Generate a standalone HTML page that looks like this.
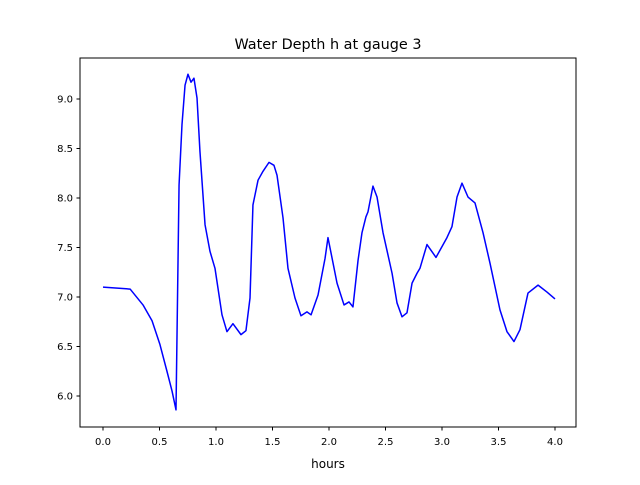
<!DOCTYPE html>
<html><head><meta charset="utf-8"><style>
body{margin:0;background:#fff;font-family:"Liberation Sans","DejaVu Sans",sans-serif}
svg text{font-family:"DejaVu Sans","Liberation Sans",sans-serif}
</style></head><body>
<svg id="chart" width="640" height="480" xmlns="http://www.w3.org/2000/svg">
<rect width="640" height="480" fill="#fff"/>
<text x="328" y="49" font-size="14.4" text-anchor="middle">Water Depth h at gauge 3</text>
<g id="axes"></g>
<rect x="80" y="58" width="496" height="369" fill="none" stroke="#000" stroke-width="1"/>
<text x="328" y="468" font-size="12" text-anchor="middle">hours</text>
</svg>
<script>
const hours=[0,0.24,0.354,0.434,0.504,0.566,0.611,0.646,0.673,0.699,0.726,0.752,0.779,0.805,0.832,0.858,0.903,0.947,0.991,1.053,1.097,1.150,1.221,1.265,1.301,1.327,1.372,1.416,1.469,1.513,1.540,1.593,1.637,1.699,1.752,1.805,1.841,1.903,1.965,1.991,2.071,2.133,2.177,2.212,2.257,2.292,2.327,2.345,2.389,2.425,2.478,2.558,2.602,2.646,2.690,2.735,2.779,2.805,2.867,2.947,3.044,3.088,3.133,3.177,3.230,3.292,3.363,3.425,3.513,3.575,3.637,3.690,3.761,3.850,3.929,4.0];
const depth=[7.10,7.08,6.92,6.76,6.52,6.25,6.05,5.86,8.13,8.74,9.14,9.25,9.17,9.21,9.01,8.47,7.73,7.46,7.29,6.82,6.65,6.73,6.62,6.66,6.99,7.93,8.18,8.27,8.36,8.33,8.23,7.80,7.29,6.99,6.81,6.85,6.82,7.02,7.39,7.60,7.14,6.92,6.95,6.90,7.37,7.65,7.81,7.86,8.12,8.01,7.65,7.24,6.94,6.80,6.84,7.14,7.24,7.29,7.53,7.40,7.60,7.71,8.01,8.15,8.01,7.95,7.65,7.34,6.87,6.65,6.55,6.67,7.04,7.12,7.05,6.98];
const xTicks=[0,0.5,1,1.5,2,2.5,3,3.5,4];
const xTickLabels=["0.0","0.5","1.0","1.5","2.0","2.5","3.0","3.5","4.0"];
const yTicks=[6,6.5,7,7.5,8,8.5,9];
const yTickLabels=["6.0","6.5","7.0","7.5","8.0","8.5","9.0"];
const X=v=>103+v*113;
const Y=v=>396-(v-6)*99;
const NS="http://www.w3.org/2000/svg";
const svg=document.getElementById('chart');
const ax=document.getElementById('axes');
xTicks.forEach((t,i)=>{
 const l=document.createElementNS(NS,'line');
 l.setAttribute('x1',X(t));l.setAttribute('x2',X(t));l.setAttribute('y1',427);l.setAttribute('y2',430.5);l.setAttribute('stroke','#000');
 
 
 ax.appendChild(l);
 const tx=document.createElementNS(NS,'text');
 tx.setAttribute('x',X(t));tx.setAttribute('y',445);tx.setAttribute('font-size','10');tx.setAttribute('text-anchor','middle');
 tx.textContent=xTickLabels[i];
 
 
 ax.appendChild(tx);
});
yTicks.forEach((t,i)=>{
 const l=document.createElementNS(NS,'line');
 l.setAttribute('x1',76.5);l.setAttribute('x2',80);l.setAttribute('y1',Y(t));l.setAttribute('y2',Y(t));l.setAttribute('stroke','#000');
 
 
 ax.appendChild(l);
 const tx=document.createElementNS(NS,'text');
 tx.setAttribute('x',73);tx.setAttribute('y',Y(t)+3.5);tx.setAttribute('font-size','10');tx.setAttribute('text-anchor','end');
 tx.textContent=yTickLabels[i];
 
 
 ax.appendChild(tx);
});
const pl=document.createElementNS(NS,'polyline');
pl.setAttribute('points',hours.map((h,i)=>X(h)+','+Y(depth[i])).join(' '));
pl.setAttribute('fill','none');pl.setAttribute('stroke','#0000ff');pl.setAttribute('stroke-width','1.5');pl.setAttribute('stroke-linejoin','round');


svg.appendChild(pl);
</script>
</body></html>
